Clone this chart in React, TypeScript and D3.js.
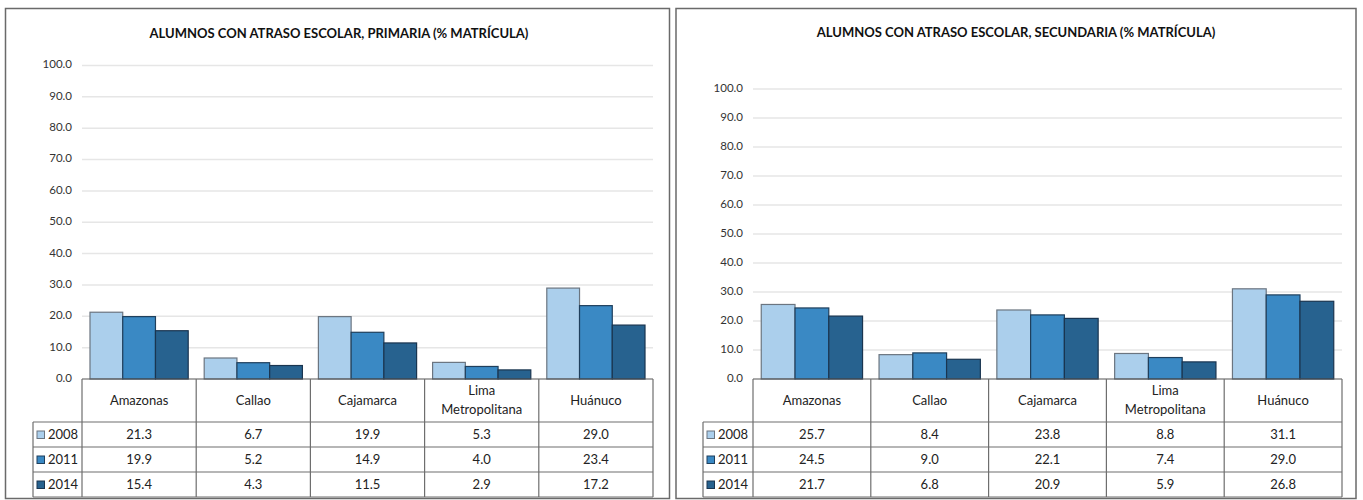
import React from "react";
import * as d3 from "d3";

const categories = ["Amazonas", "Callao", "Cajamarca", "Lima Metropolitana", "Huánuco"];
const years = ["2008", "2011", "2014"];
const primaria2008 = [21.3, 6.7, 19.9, 5.3, 29.0];
const primaria2011 = [19.9, 5.2, 14.9, 4.0, 23.4];
const primaria2014 = [15.4, 4.3, 11.5, 2.9, 17.2];
const secundaria2008 = [25.7, 8.4, 23.8, 8.8, 31.1];
const secundaria2011 = [24.5, 9.0, 22.1, 7.4, 29.0];
const secundaria2014 = [21.7, 6.8, 20.9, 5.9, 26.8];
const yTicks = [0, 10, 20, 30, 40, 50, 60, 70, 80, 90, 100];
const colors = ["#abcfec", "#3a89c4", "#27628f"];
const strokes = ["#6b7580", "#1f3f5c", "#1a3550"];

const FONT = "Lato, 'Open Sans', sans-serif";

type PanelProps = {
  title: string;
  series: number[][];
  box: [number, number, number, number];
  titleX: number;
  titleY: number;
  plotX0: number;
  plotX1: number;
  yTopPx: number;
  legendX: number;
};

function Panel({ title, series, box, titleX, titleY, plotX0, plotX1, yTopPx, legendX }: PanelProps) {
  const y0 = 379;
  const rowH = [379, 422, 447, 472, 497];
  const y = d3.scaleLinear().domain([0, 100]).range([y0, yTopPx]);
  const xCol = d3.scaleBand<string>().domain(categories).range([plotX0, plotX1]).padding(0);
  const xGroup = d3
    .scaleBand<string>()
    .domain(categories)
    .range([plotX0, plotX1])
    .paddingInner(0.14)
    .paddingOuter(0.07);
  const xBar = d3.scaleBand<string>().domain(years).range([0, xGroup.bandwidth()]).padding(0);
  const lineColor = "#6e6e6e";
  return (
    <g>
      <rect x={box[0]} y={box[1]} width={box[2]} height={box[3]} fill="white" stroke="#6a6a6a" strokeWidth={1.5} />
      <text x={titleX} y={titleY} textAnchor="middle" dominantBaseline="middle" fontFamily={FONT} fontWeight="bold" fontSize={13} fill="#111">
        {title}
      </text>
      {yTicks.filter((t) => t > 0).map((t) => (
        <line key={"g" + t} x1={plotX0} x2={plotX1} y1={y(t)} y2={y(t)} stroke="#e6e6e6" strokeWidth={1.5} />
      ))}
      {yTicks.map((t) => (
        <text key={"t" + t} x={plotX0 - 10} y={y(t)} textAnchor="end" dominantBaseline="middle" fontFamily={FONT} fontSize={11.5} fill="#333">
          {t.toFixed(1)}
        </text>
      ))}
      {series.map((vals, si) =>
        vals.map((v, ci) => (
          <rect
            key={`b${si}-${ci}`}
            x={(xGroup(categories[ci]) as number) + (xBar(years[si]) as number)}
            y={y(v)}
            width={xBar.bandwidth()}
            height={y0 - y(v)}
            fill={colors[si]}
            stroke={strokes[si]}
            strokeWidth={1.2}
          />
        ))
      )}
      {/* table */}
      <line x1={plotX0} x2={plotX1} y1={rowH[0]} y2={rowH[0]} stroke="#555" strokeWidth={1.2} />
      {[1, 2, 3, 4].map((r) => (
        <line key={"h" + r} x1={legendX} x2={plotX1} y1={rowH[r]} y2={rowH[r]} stroke={lineColor} strokeWidth={1.2} />
      ))}
      <line x1={legendX} x2={legendX} y1={rowH[1]} y2={rowH[4]} stroke={lineColor} strokeWidth={1.2} />
      {categories.map((c, i) => (
        <line key={"v" + i} x1={xCol(c) as number} x2={xCol(c) as number} y1={rowH[0]} y2={rowH[4]} stroke={lineColor} strokeWidth={1.2} />
      ))}
      <line x1={plotX1} x2={plotX1} y1={rowH[0]} y2={rowH[4]} stroke={lineColor} strokeWidth={1.2} />
      {categories.map((c, i) => {
        const cx = (xCol(c) as number) + xCol.bandwidth() / 2;
        const parts = c === "Lima Metropolitana" ? ["Lima", "Metropolitana"] : [c];
        const cy = (rowH[0] + rowH[1]) / 2 + 1;
        return (
          <text key={"c" + i} x={cx} textAnchor="middle" fontFamily={FONT} fontSize={13} fill="#222">
            {parts.map((p, k) => (
              <tspan key={k} x={cx} y={parts.length === 1 ? cy : cy + (k === 0 ? -9.5 : 9.5)} dominantBaseline="middle">
                {p}
              </tspan>
            ))}
          </text>
        );
      })}
      {series.map((vals, si) => {
        const cy = (rowH[si + 1] + rowH[si + 2]) / 2 + 1;
        return (
          <g key={"r" + si}>
            <rect x={legendX + 4} y={cy - 4.5} width={7.5} height={7.5} fill={colors[si]} stroke={strokes[si]} strokeWidth={1} />
            <text x={legendX + 15} y={cy} dominantBaseline="middle" fontFamily={FONT} fontSize={13} fill="#222">
              {years[si]}
            </text>
            {vals.map((v, ci) => (
              <text
                key={ci}
                x={(xCol(categories[ci]) as number) + xCol.bandwidth() / 2}
                y={cy}
                textAnchor="middle"
                dominantBaseline="middle"
                fontFamily={FONT}
                fontSize={13}
                fill="#222"
              >
                {v.toFixed(1)}
              </text>
            ))}
          </g>
        );
      })}
    </g>
  );
}

export default function App() {
  return (
    <svg width={1363} height={500} style={{ position: "absolute", left: 0, top: 0 }}>
      <rect x={0} y={0} width={1363} height={500} fill="white" />
      <Panel
        title="ALUMNOS CON ATRASO ESCOLAR, PRIMARIA (% MATRÍCULA)"
        series={[primaria2008, primaria2011, primaria2014]}
        box={[5.5, 8.5, 664, 490]}
        titleX={339}
        titleY={35}
        plotX0={82}
        plotX1={653}
        yTopPx={65.5}
        legendX={33}
      />
      <Panel
        title="ALUMNOS CON ATRASO ESCOLAR, SECUNDARIA (% MATRÍCULA)"
        series={[secundaria2008, secundaria2011, secundaria2014]}
        box={[676, 8.5, 680, 490]}
        titleX={1016}
        titleY={34}
        plotX0={753}
        plotX1={1342}
        yTopPx={89}
        legendX={703}
      />
    </svg>
  );
}
